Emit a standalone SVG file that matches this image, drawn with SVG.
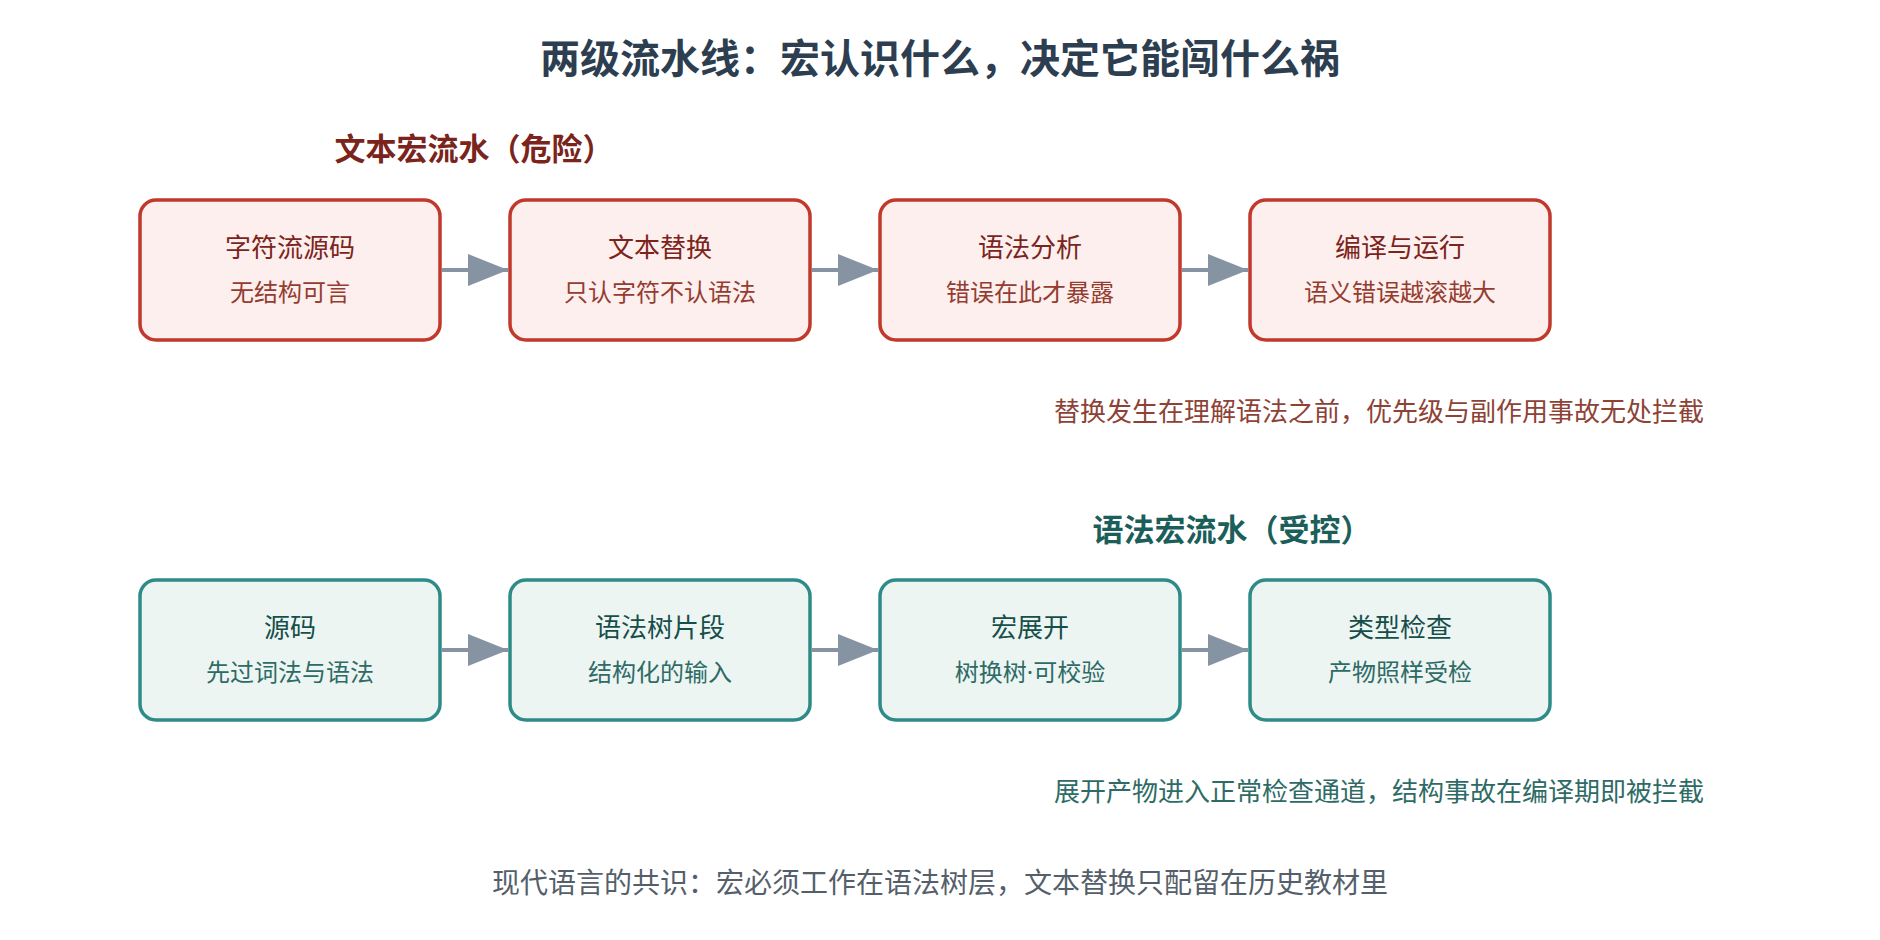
<svg xmlns="http://www.w3.org/2000/svg" width="1880" height="940" viewBox="0 0 1880 940">
<style>
text{font-family:"Noto Sans","Noto Sans CJK SC",sans-serif;text-anchor:middle}
.t{font-size:40px;font-weight:bold;fill:#2c3e50}
.h{font-size:31px;font-weight:bold}
.r rect{fill:#fdefed;stroke:#c0392b;stroke-width:3.5}
.g rect{fill:#edf5f3;stroke:#2e8b87;stroke-width:3.5}
.r .a{fill:#7b241c;font-size:26px}.r .b{fill:#943c30;font-size:24px}
.g .a{fill:#164e4a;font-size:26px}.g .b{fill:#2e6b66;font-size:24px}
.n{font-size:26px;text-anchor:end}
.c line{stroke:#8593a3;stroke-width:4}
</style>
<defs><marker id="m" viewBox="0 0 10 10" refX="10" refY="5" markerWidth="40" markerHeight="32" markerUnits="userSpaceOnUse" orient="auto" preserveAspectRatio="none"><path d="M0,0L10,5L0,10z" fill="#8593a3"/></marker></defs>
<text class="t" x="940" y="73">两级流水线：宏认识什么，决定它能闯什么祸</text>
<text class="h" x="474" y="160" fill="#7b241c">文本宏流水（危险）</text>
<text class="h" x="1232" y="541" fill="#1b5e5a">语法宏流水（受控）</text>
<g class="r" id="n1"><rect x="140" y="200" width="300" height="140" rx="16"/><text class="a" x="290" y="257">字符流源码</text><text class="b" x="290" y="301">无结构可言</text></g>
<g class="r" id="n2"><rect x="510" y="200" width="300" height="140" rx="16"/><text class="a" x="660" y="257">文本替换</text><text class="b" x="660" y="301">只认字符不认语法</text></g>
<g class="r" id="n3"><rect x="880" y="200" width="300" height="140" rx="16"/><text class="a" x="1030" y="257">语法分析</text><text class="b" x="1030" y="301">错误在此才暴露</text></g>
<g class="r" id="n4"><rect x="1250" y="200" width="300" height="140" rx="16"/><text class="a" x="1400" y="257">编译与运行</text><text class="b" x="1400" y="301">语义错误越滚越大</text></g>
<g class="g" id="n5"><rect x="140" y="580" width="300" height="140" rx="16"/><text class="a" x="290" y="637">源码</text><text class="b" x="290" y="681">先过词法与语法</text></g>
<g class="g" id="n6"><rect x="510" y="580" width="300" height="140" rx="16"/><text class="a" x="660" y="637">语法树片段</text><text class="b" x="660" y="681">结构化的输入</text></g>
<g class="g" id="n7"><rect x="880" y="580" width="300" height="140" rx="16"/><text class="a" x="1030" y="637">宏展开</text><text class="b" x="1030" y="681">树换树·可校验</text></g>
<g class="g" id="n8"><rect x="1250" y="580" width="300" height="140" rx="16"/><text class="a" x="1400" y="637">类型检查</text><text class="b" x="1400" y="681">产物照样受检</text></g>
<g class="c" id="connectors">
<line x1="442" y1="270" x2="508" y2="270" marker-end="url(#m)"/>
<line x1="812" y1="270" x2="878" y2="270" marker-end="url(#m)"/>
<line x1="1182" y1="270" x2="1248" y2="270" marker-end="url(#m)"/>
<line x1="442" y1="650" x2="508" y2="650" marker-end="url(#m)"/>
<line x1="812" y1="650" x2="878" y2="650" marker-end="url(#m)"/>
<line x1="1182" y1="650" x2="1248" y2="650" marker-end="url(#m)"/>
</g>
<text class="n" x="1704" y="421" fill="#8e4236">替换发生在理解语法之前，优先级与副作用事故无处拦截</text>
<text class="n" x="1704" y="801" fill="#2e6b66">展开产物进入正常检查通道，结构事故在编译期即被拦截</text>
<text x="940" y="893" font-size="28" fill="#555f6b">现代语言的共识：宏必须工作在语法树层，文本替换只配留在历史教材里</text>
</svg>
